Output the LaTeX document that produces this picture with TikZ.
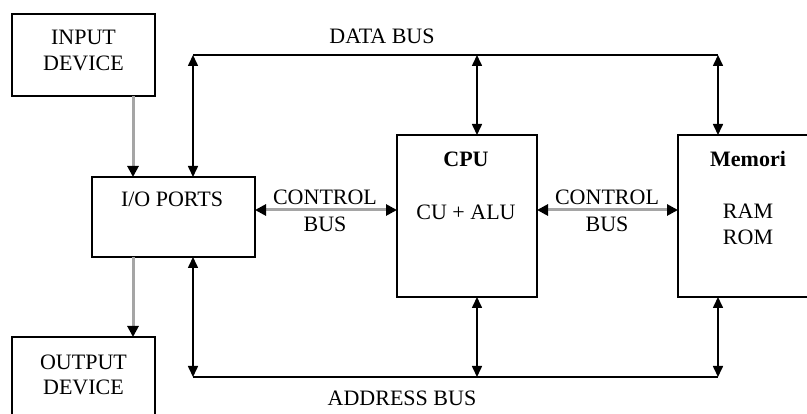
\documentclass[tikz,border=0pt]{standalone}
\usepackage{fontspec}
\setmainfont{Liberation Serif}
\usetikzlibrary{arrows.meta}
\begin{document}
\begin{tikzpicture}[x=1pt,y=-1pt,
  box/.style={draw=black,line width=1.6pt,fill=white,inner sep=0pt,outer sep=0pt},
  lbl/.style={anchor=base,inner sep=0pt,font=\fontsize{22}{25}\selectfont},
  blbl/.style={lbl,font=\fontsize{22}{25}\selectfont\bfseries},
  busline/.style={black,line width=1.6pt},
  dbl/.style={black,line width=1.6pt,{Triangle[length=11pt,width=10pt]}-{Triangle[length=11pt,width=10pt]}},
  grayarrow/.style={draw={rgb,255:red,165;green,165;blue,165},line width=3pt,-{Triangle[length=11pt,width=11pt,color=black]}},
  graydbl/.style={draw={rgb,255:red,165;green,165;blue,165},line width=3pt,{Triangle[length=11pt,width=11pt,color=black]}-{Triangle[length=11pt,width=11pt,color=black]}}
]
\useasboundingbox (0,0) rectangle (807,414);
\clip (0,0) rectangle (807,414);
\fill[white] (0,0) rectangle (807,414);

% boxes
\node[box,minimum width=143pt,minimum height=82pt] (inp) at (83.5,55) {};
\node[box,minimum width=163pt,minimum height=80pt] (io) at (173.5,217) {};
\node[box,minimum width=143pt,minimum height=100pt] (out) at (83.5,387) {};
\node[box,minimum width=140pt,minimum height=162pt] (cpu) at (467,216) {};
\node[box,minimum width=160pt,minimum height=162pt] (mem) at (758,216) {};

% texts
\node[lbl] (t1) at (83.5,45) {INPUT};
\node[lbl] (t2) at (83.5,71) {DEVICE};
\node[lbl] (t3) at (172,207) {I/O PORTS};
\node[lbl] (t4) at (83.5,370) {OUTPUT};
\node[lbl] (t5) at (83.5,395) {DEVICE};
\node[blbl] (t6) at (466,167) {CPU};
\node[lbl] (t7) at (466,220) {CU + ALU};
\node[blbl] (t8) at (748,167) {Memori};
\node[lbl] (t9) at (748,219) {RAM};
\node[lbl] (t10) at (748,245) {ROM};
\node[lbl] (t11) at (325,205) {CONTROL};
\node[lbl] (t12) at (325,232) {BUS};
\node[lbl] (t13) at (607,205) {CONTROL};
\node[lbl] (t14) at (607,232) {BUS};
\node[lbl] (t15) at (382,44) {DATA BUS};
\node[lbl] (t16) at (402,406) {ADDRESS BUS};

% bus coordinates
\coordinate (db1) at (193,55);
\coordinate (db2) at (477,55);
\coordinate (db3) at (718,55);
\coordinate (ab1) at (193,377);
\coordinate (ab2) at (477,377);
\coordinate (ab3) at (718,377);
\coordinate (g) at (133,0);
\coordinate (cb) at (0,210);

% buses
\draw[busline] (db1) -- (db3);
\draw[busline] (ab1) -- (ab3);
\draw[dbl] (db1) -- (db1 |- io.north);
\draw[dbl] (db2) -- (db2 |- cpu.north);
\draw[dbl] (db3) -- (db3 |- mem.north);
\draw[dbl] (ab1 |- io.south) -- (ab1);
\draw[dbl] (ab2 |- cpu.south) -- (ab2);
\draw[dbl] (ab3 |- mem.south) -- (ab3);

% gray arrows
\draw[grayarrow] (g |- inp.south) -- (g |- io.north);
\draw[grayarrow] (g |- io.south) -- (g |- out.north);
\draw[graydbl] (io.east |- cb) -- (cpu.west |- cb);
\draw[graydbl] (cpu.east |- cb) -- (mem.west |- cb);
\end{tikzpicture}
\end{document}
